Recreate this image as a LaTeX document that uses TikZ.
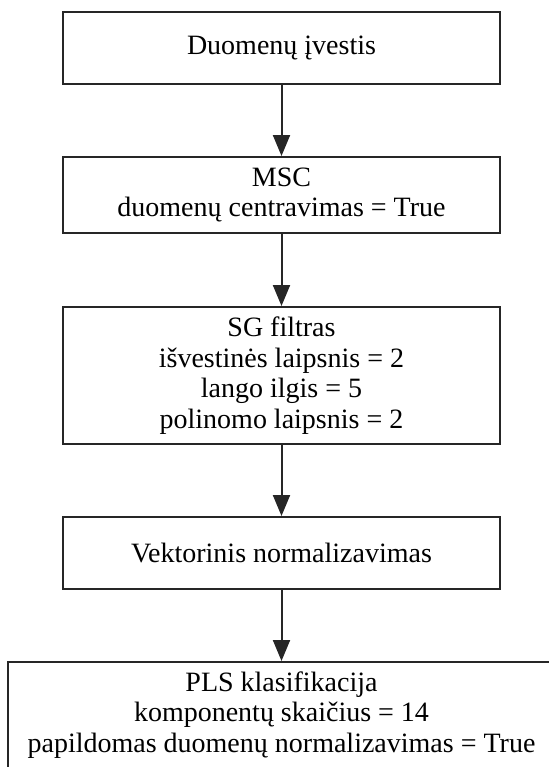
\documentclass[tikz,border=0pt]{standalone}
\usepackage{fontspec}
\setmainfont{Liberation Serif}
\usetikzlibrary{arrows.meta}
\begin{document}
\begin{tikzpicture}[x=0.5pt,y=-0.5pt,
  stage/.style={draw=black!85, line width=1pt, rectangle, inner sep=0pt,
    align=center, minimum width=218.5pt, font=\fontsize{14}{15.25}\selectfont},
  flow/.style={draw=black!85, line width=1pt,
    -{Triangle[length=10.5pt,width=8.5pt]}}]
\useasboundingbox (0,0) rectangle (549,767);
\clip (0,0) rectangle (549,767);
\node[stage, minimum height=36pt] (input) at (281.5,48) {Duomenų įvestis};
\node[stage, minimum height=38pt] (msc) at (281.5,195)
  {MSC\\ duomenų centravimas = True};
\node[stage, minimum height=68.5pt] (sg) at (281.5,375.5)
  {SG filtras\\ išvestinės laipsnis = 2\\ lango ilgis = 5\\ polinomo laipsnis = 2};
\node[stage, minimum height=36pt] (vn) at (281.5,553) {Vektorinis normalizavimas};
\node[stage, minimum height=53pt, minimum width=273.5pt] (pls) at (281.5,715)
  {PLS klasifikacija\\ komponentų skaičius = 14\\ papildomas duomenų normalizavimas = True};
\draw[flow] (input) -- (msc);
\draw[flow] (msc) -- (sg);
\draw[flow] (sg) -- (vn);
\draw[flow] (vn) -- (pls);
\end{tikzpicture}
\end{document}
